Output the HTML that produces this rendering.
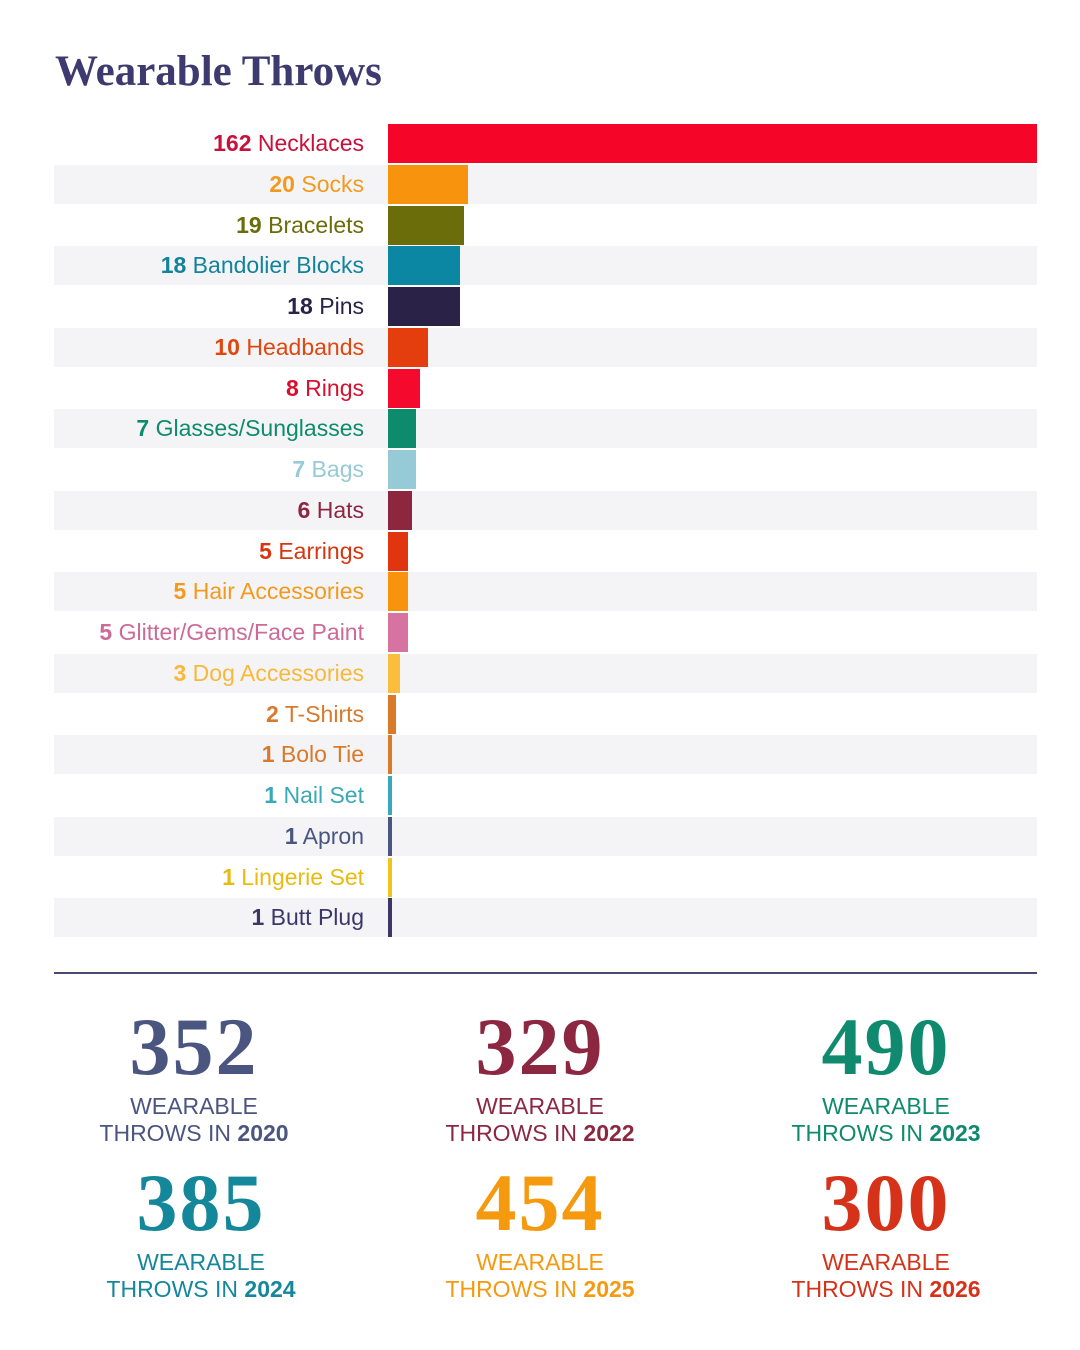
<!DOCTYPE html>
<html><head><meta charset="utf-8"><style>
body{margin:0;width:1080px;height:1350px;background:#fff;position:relative;overflow:hidden;font-family:"Liberation Sans",sans-serif}
h1{position:absolute;left:55px;top:47px;margin:0;font:bold 43px "Liberation Serif",serif;color:#3c3a6e;letter-spacing:0px}
.bg{position:absolute;left:54px;width:983px;height:39px;background:#f4f4f7}
.bar{position:absolute;left:388px;height:39px}
.lb{position:absolute;right:716px;height:39px;line-height:39px;font-size:23px;white-space:nowrap}
.lb b{font-weight:bold}
.line{position:absolute;left:54px;top:972px;width:983px;height:2px;background:#4a4870}
.st{position:absolute;width:300px;text-align:center}
.st .n{font:bold 82px "Liberation Serif",serif;line-height:74px;letter-spacing:2px}
.st .t{font-size:23px;line-height:27px;margin-top:9px}
</style></head><body>
<h1>Wearable Throws</h1>
<div id="c"></div>
<div class="line"></div>
<div class="st" style="left:44px;top:1010px;color:#4b5680"><div class="n">352</div><div class="t">WEARABLE<br>THROWS IN <b>2020</b></div></div>
<div class="st" style="left:390px;top:1010px;color:#8c2741"><div class="n">329</div><div class="t">WEARABLE<br>THROWS IN <b>2022</b></div></div>
<div class="st" style="left:736px;top:1010px;color:#0f8a6e"><div class="n">490</div><div class="t">WEARABLE<br>THROWS IN <b>2023</b></div></div>
<div class="st" style="left:51px;top:1166px;color:#14879a"><div class="n">385</div><div class="t">WEARABLE<br>THROWS IN <b>2024</b></div></div>
<div class="st" style="left:390px;top:1166px;color:#f5990e"><div class="n">454</div><div class="t">WEARABLE<br>THROWS IN <b>2025</b></div></div>
<div class="st" style="left:736px;top:1166px;color:#d6321a"><div class="n">300</div><div class="t">WEARABLE<br>THROWS IN <b>2026</b></div></div>
<script>
var d=[[162,"Necklaces","#f50528","#c8103a"],[20,"Socks","#f7930d","#f39a1e"],[19,"Bracelets","#6b6c0a","#6b6c0a"],[18,"Bandolier Blocks","#0c87a3","#12839b"],[18,"Pins","#2a2347","#2a2347"],[10,"Headbands","#e53e0e","#e0470f"],[8,"Rings","#f50a2e","#d8102f"],[7,"Glasses/Sunglasses","#0e8b6d","#0e8b6d"],[7,"Bags","#97cad7","#97cad7"],[6,"Hats","#8d2740","#8d2740"],[5,"Earrings","#e0350f","#d8350f"],[5,"Hair Accessories","#f7930d","#f39a1e"],[5,"Glitter/Gems/Face Paint","#d673a0","#cc6a98"],[3,"Dog Accessories","#fbbd3c","#f8b83a"],[2,"T-Shirts","#d9792a","#d9792a"],[1,"Bolo Tie","#d9792a","#d9792a"],[1,"Nail Set","#3aa9b7","#3aa9b7"],[1,"Apron","#4b5680","#4b5680"],[1,"Lingerie Set","#f0c419","#e8bb10"],[1,"Butt Plug","#3c3768","#3c3768"]];
var h="";d.forEach(function(r,i){var y=124+i*40.75;
if(i%2)h+='<div class="bg" style="top:'+y+'px"></div>';
h+='<div class="bar" style="top:'+y+'px;width:'+Math.max(3,r[0]*649/162)+'px;background:'+r[2]+'"></div>';
h+='<div class="lb" style="top:'+y+'px;color:'+r[3]+'"><b>'+r[0]+'</b> '+r[1]+'</div>';});
document.getElementById("c").innerHTML=h;
</script>
</body></html>
